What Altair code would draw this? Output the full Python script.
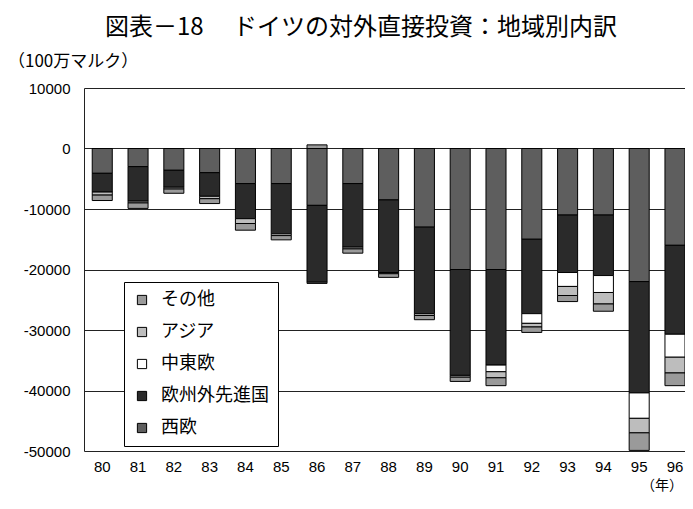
import altair as alt
import pandas as pd

years = ['80', '81', '82', '83', '84', '85', '86', '87', '88', '89', '90', '91', '92', '93', '94', '95', '96']
series = ['西欧', '欧州外先進国', '中東欧', 'アジア', 'その他']
west = [-4100, -3000, -3600, -4000, -5800, -5800, -9400, -5800, -8500, -13000, -20000, -20000, -15000, -11000, -11000, -22000, -16000]
non_eu = [-3100, -5700, -2800, -3900, -5800, -8300, -12700, -10500, -12000, -14300, -17500, -15800, -12300, -9500, -10000, -18400, -14700]
cee = [0, 0, 0, 0, 0, 0, 0, 0, 0, 0, 0, -1100, -1600, -2300, -2800, -4200, -3800]
asia = [-500, -300, -300, -400, -800, -300, -200, -300, -200, -300, -300, -1000, -600, -1500, -1900, -2400, -2600]
other = [-900, -900, -700, -800, -1100, -700, 600, -700, -600, -700, -700, -1300, -900, -1000, -1200, -2900, -2100]

legend_order = ['その他', 'アジア', '中東欧', '欧州外先進国', '西欧']
fills = ['#9a9a9a', '#bdbdbd', '#ffffff', '#2a2a2a', '#5e5e5e']

rows = []
for s_i, (name, vals) in enumerate(zip(series, [west, non_eu, cee, asia, other])):
    for y, v in zip(years, vals):
        rows.append({'year': y, 'region': name, 'value': v, 'rank': s_i})
df = pd.DataFrame(rows)

JP = 'Noto Sans CJK JP'

bars = alt.Chart(df).mark_bar(stroke='black', strokeWidth=1).encode(
    x=alt.X('year:N', sort=years,
            scale=alt.Scale(paddingInner=0.44, paddingOuter=0.115, align=1),
            axis=alt.Axis(title=None, labelAngle=0, domain=False, ticks=False,
                          labelPadding=8, labelFontSize=15, labelFont='Liberation Sans',
                          labelColor='black')),
    y=alt.Y('value:Q', stack='zero',
            scale=alt.Scale(domain=[-50000, 10000], nice=False),
            axis=alt.Axis(title=None, values=[10000, 0, -10000, -20000, -30000, -40000, -50000],
                          labelExpr="'' + datum.value", ticks=False, labelPadding=14,
                          labelFontSize=15, labelFont='Liberation Sans', labelColor='black',
                          grid=True, gridColor='#222222', gridWidth=1,
                          domain=True, domainColor='#222222')),
    color=alt.Color('region:N',
                    scale=alt.Scale(domain=legend_order, range=fills),
                    legend=alt.Legend(title=None, orient='none', legendX=40, legendY=194,
                                      symbolType='square', symbolSize=85,
                                      symbolStrokeColor='black', symbolStrokeWidth=1,
                                      labelFont=JP, labelFontSize=18, labelColor='black',
                                      labelOffset=10, rowPadding=14, padding=9,
                                      strokeColor='black', fillColor='white',
                                      labelLimit=300)),
    order=alt.Order('rank:Q', sort='ascending'),
)

one = pd.DataFrame({'t': ['x']})

title = alt.Chart(one).mark_text(
    text='図表－18　 ドイツの対外直接投資：地域別内訳', font=JP, fontSize=24,
    align='center', baseline='middle', color='black'
).encode(x=alt.value(277), y=alt.value(-60))

unit = alt.Chart(one).mark_text(
    text='（100万マルク）', font=JP, fontSize=17,
    align='left', baseline='middle', color='black'
).encode(x=alt.value(-76), y=alt.value(-26))

year_lbl = alt.Chart(one).mark_text(
    text='（年）', font=JP, fontSize=14,
    align='center', baseline='middle', color='black'
).encode(x=alt.value(578), y=alt.value(398))

chart = alt.layer(bars, title, unit, year_lbl).properties(
    width=601, height=363,
    autosize=alt.AutoSizeParams(type='none'),
    padding={'left': 76, 'top': 80, 'right': 0, 'bottom': 50},
    background='white',
).configure_view(strokeWidth=0)

chart.save("out.html", embed_options={"renderer": "svg", "actions": False})
